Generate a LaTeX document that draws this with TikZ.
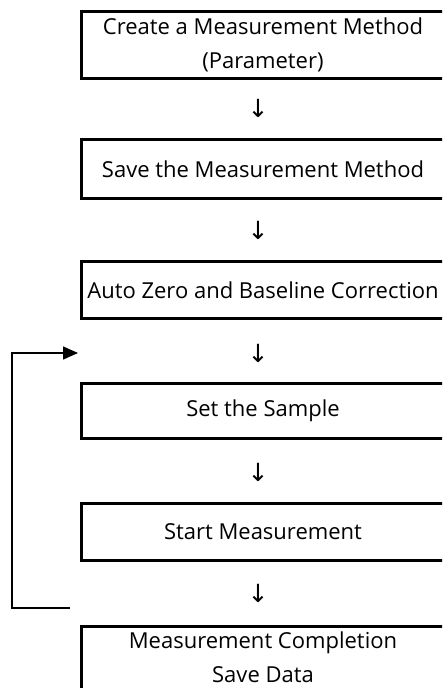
\documentclass[tikz,border=0pt]{standalone}
\usepackage{fontspec}
\setmainfont{Open Sans}
\newfontfamily\arrowfont{DejaVu Sans}
\usetikzlibrary{arrows.meta}
\tikzset{
  steptext/.style={align=center, inner sep=0pt, font=\fontsize{22}{34}\selectfont},
  stepbox/.style={steptext, draw, line width=3pt, minimum width=363pt},
  frameline/.style={line width=3pt},
  downmark/.style={font=\arrowfont\fontsize{25}{25}\selectfont, inner sep=0pt},
  loopline/.style={line width=1.5pt, -{Triangle[length=15pt,width=13pt]}}
}
\begin{document}
\begin{tikzpicture}[x=1pt,y=-1pt]
  \useasboundingbox (0,0) rectangle (442,688);
  \clip (0,0) rectangle (442,688);

  % process steps (right side runs off the page)
  \node[stepbox, minimum height=67pt] (create) at (263,45) {Create a Measurement Method\\(Parameter)};
  \node[downmark] (d1) at (258,108) {↓};
  \node[stepbox, minimum height=59pt] (save) at (263,169) {Save the Measurement Method};
  \node[downmark] (d2) at (258,230) {↓};
  \node[stepbox, minimum height=57pt] (zero) at (263,290) {Auto Zero and Baseline Correction};
  \node[downmark] (d3) at (258,353) {↓};
  \node[stepbox, minimum height=55pt] (sample) at (263,411) {Set the Sample};
  \node[downmark] (d4) at (258,472) {↓};
  \node[stepbox, minimum height=57pt] (start) at (263,532) {Start Measurement};
  \node[downmark] (d5) at (258,593) {↓};

  % last step: its frame runs past the bottom edge
  \draw[frameline] (81.5,700) -- (81.5,626.5) -- (446,626.5);
  \node[steptext] (done) at (263,657) {Measurement Completion\\Save Data};

  % repeat loop back to the sample step
  \coordinate (loopfrom) at (70,608);
  \coordinate (loopto) at (78,353);
  \draw[loopline] (loopfrom) -- (12,608) -- (12,353) -- (loopto);
\end{tikzpicture}
\end{document}
